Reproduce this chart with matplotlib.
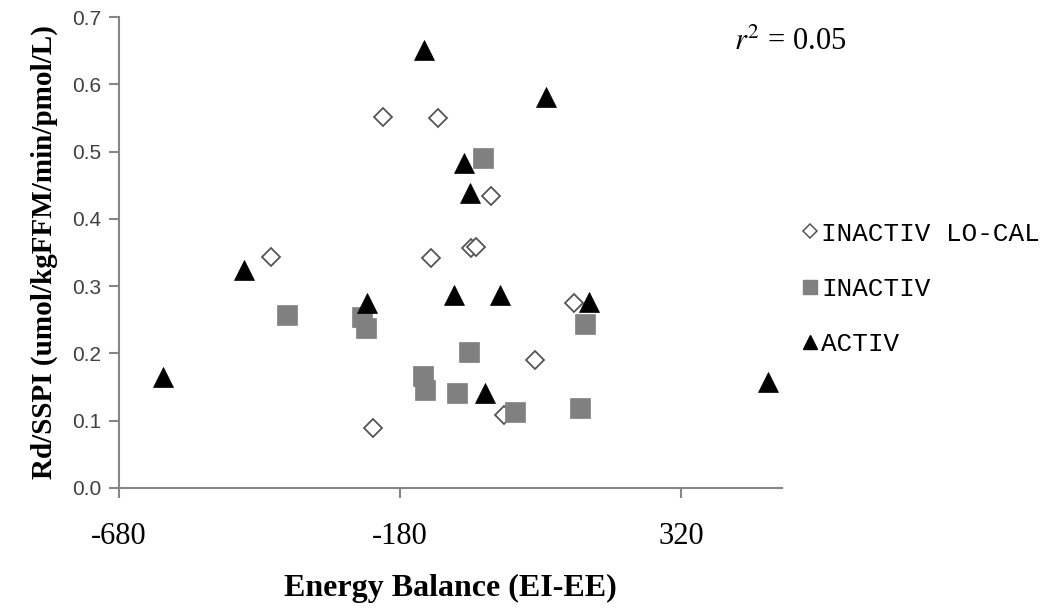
import matplotlib
matplotlib.use('Agg')
import matplotlib.pyplot as plt
from matplotlib.lines import Line2D

# Energy balance (EI-EE) vs Rd/SSPI for each group
inactivLoCalX = [-210, -112, -18, -53, -45, -410, -125, -228, 5, 60, 130]
inactivLoCalY = [0.551, 0.550, 0.434, 0.357, 0.358, 0.343, 0.342, 0.089, 0.108, 0.190, 0.275]

inactivX = [-32, -248, -240, -381, -57, -139, -136, -79, 25, 149, 140]
inactivY = [0.490, 0.254, 0.238, 0.257, 0.202, 0.166, 0.146, 0.141, 0.113, 0.244, 0.119]

activX = [-137, 80, -66, -55, -458, -239, -602, -84, -2, -29, 156, 475]
activY = [0.651, 0.581, 0.483, 0.438, 0.324, 0.275, 0.165, 0.287, 0.287, 0.141, 0.276, 0.158]

xTicks = [-680, -180, 320]
yTicks = [0.0, 0.1, 0.2, 0.3, 0.4, 0.5, 0.6, 0.7]
labels = ['INACTIV LO-CAL', 'INACTIV', 'ACTIV']
rSquared = 0.05

plt.rcParams['mathtext.fontset'] = 'stix'
serif = 'Liberation Serif'
axisGray = '#868686'

fig = plt.figure(figsize=(10.44, 6.12), dpi=100)
ax = fig.add_axes([0.114, 0.203, 0.635, 0.769])

ax.plot(inactivLoCalX, inactivLoCalY, 'D', ms=9.5, mfc='white', mec='#555555', mew=1.3, ls='none')
ax.plot(inactivX, inactivY, 's', ms=14, mfc='#808080', mec='#808080', mew=0.5, ls='none')
ax.plot(activX, activY, '^', ms=14, mfc='black', mec='black', mew=0.5, ls='none')

ax.set_xlim(-680, 500)
ax.set_ylim(0, 0.7)
ax.set_xticks(xTicks)
ax.set_yticks(yTicks)
ax.set_xticklabels([str(v) for v in xTicks], fontfamily=serif, fontsize=22)
ax.set_yticklabels(['{:.1f}'.format(v) for v in yTicks], fontfamily='Liberation Sans', fontsize=15, color='#404040')

for side in ['top', 'right']:
    ax.spines[side].set_visible(False)
for side in ['left', 'bottom']:
    ax.spines[side].set_color(axisGray)
    ax.spines[side].set_linewidth(1.5)
ax.tick_params(axis='both', direction='out', length=7, width=1.5, color=axisGray)
ax.tick_params(axis='x', pad=18)
ax.tick_params(axis='y', pad=6)

ax.set_xlabel('Energy Balance (EI-EE)', fontfamily=serif, fontweight='bold', fontsize=23, labelpad=16)
ax.set_ylabel('Rd/SSPI (umol/kgFFM/min/pmol/L)', fontfamily=serif, fontweight='bold', fontsize=21, labelpad=10)

fig.text(0.703, 0.918, '$r^2$ = {:.2f}'.format(rSquared), fontfamily=serif, fontsize=22)

handles = [
    Line2D([], [], marker='D', ls='none', ms=7, mfc='white', mec='#555555', mew=1.1),
    Line2D([], [], marker='s', ls='none', ms=10, mfc='#808080', mec='#808080'),
    Line2D([], [], marker='^', ls='none', ms=10, mfc='black', mec='black'),
]
fig.legend(handles, labels, loc='upper left', bbox_to_anchor=(0.757, 0.655), frameon=False,
           prop={'family': 'Liberation Mono', 'size': 18.7}, handlelength=0.7, handletextpad=0.1,
           labelspacing=1.2, borderaxespad=0)

fig.savefig('out.png', dpi=100)
